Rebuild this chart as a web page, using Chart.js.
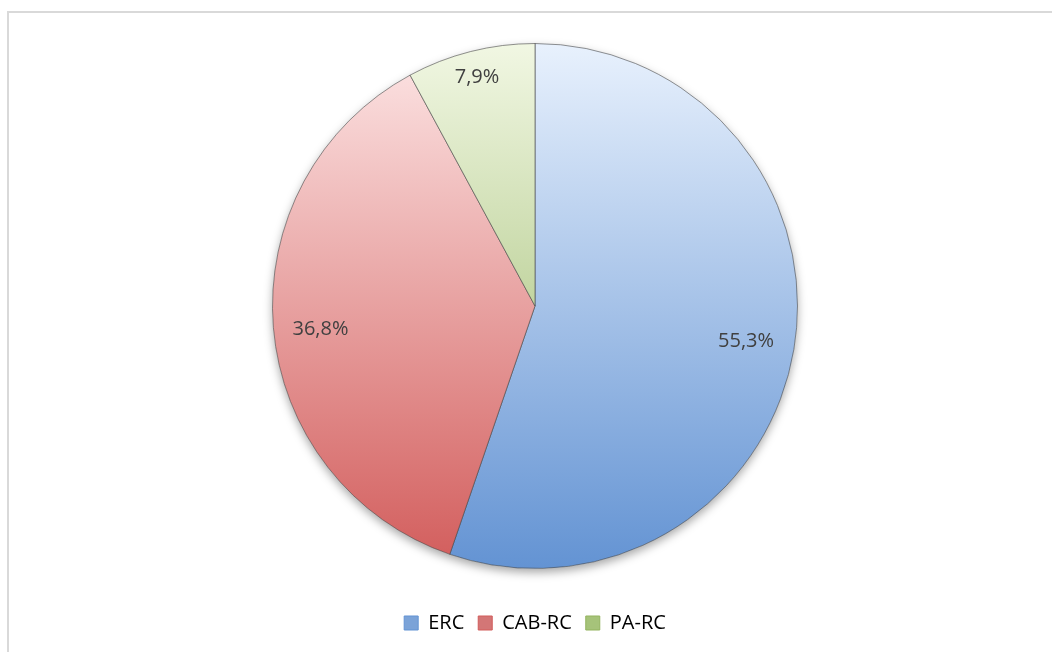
<!DOCTYPE html>
<html>
<head>
<meta charset="utf-8">
<script src="https://cdn.jsdelivr.net/npm/chart.js@4.4.0/dist/chart.umd.min.js"></script>
<style>
  html, body { margin: 0; padding: 0; background: #fff; overflow: hidden; }
  #wrap { position: relative; width: 1052px; height: 652px; }
  #frame {
    position: absolute; left: 7px; top: 11px; right: -10px; bottom: -10px;
    border: 2px solid #d9d9d9;
  }
  #chart { position: absolute; left: 0; top: 0; }
</style>
</head>
<body>
<div id="wrap">
  <div id="frame"></div>
  <canvas id="chart" width="1052" height="652"></canvas>
</div>
<script>
// datos del gráfico
const categories = ['ERC', 'CAB-RC', 'PA-RC'];
const values = [21, 14, 3];
const pctLabels = ['55,3%', '36,8%', '7,9%'];

// colores (claro arriba, oscuro abajo)
const lightColors = ['#e8f1fd', '#fde6e6', '#f1f7e3'];
const darkColors = ['#6393d3', '#d25c5b', '#93b35e'];
const legendColors = ['#7ba3d8', '#d37676', '#a6c37a'];

function sliceGradient(context) {
  const chart = context.chart;
  const area = chart.chartArea;
  const i = context.dataIndex;
  if (!area) return darkColors[i];
  const cy = (area.top + area.bottom) / 2;
  const r = Math.min(area.right - area.left, area.bottom - area.top) / 2;
  const g = chart.ctx.createLinearGradient(0, cy - r, 0, cy + r);
  g.addColorStop(0, lightColors[i]);
  g.addColorStop(1, darkColors[i]);
  return g;
}

// sombra bajo la tarta
const shadowPlugin = {
  id: 'pieShadow',
  beforeDatasetsDraw(chart) {
    const arc = chart.getDatasetMeta(0).data[0];
    if (!arc) return;
    const ctx = chart.ctx;
    ctx.save();
    ctx.shadowColor = 'rgba(0,0,0,0.35)';
    ctx.shadowBlur = 10;
    ctx.shadowOffsetY = 4;
    ctx.fillStyle = '#ffffff';
    ctx.beginPath();
    ctx.arc(arc.x, arc.y, arc.outerRadius, 0, Math.PI * 2);
    ctx.fill();
    ctx.restore();
  }
};

// etiquetas de porcentaje
const labelPlugin = {
  id: 'pctLabels',
  afterDatasetsDraw(chart, args, opts) {
    const ctx = chart.ctx;
    const meta = chart.getDatasetMeta(0);
    ctx.save();
    ctx.font = '20px "Open Sans", sans-serif';
    ctx.fillStyle = '#404040';
    ctx.textAlign = 'center';
    ctx.textBaseline = 'middle';
    meta.data.forEach((arc, i) => {
      const mid = (arc.startAngle + arc.endAngle) / 2;
      const f = opts.factors[i];
      const x = arc.x + Math.cos(mid) * arc.outerRadius * f;
      const y = arc.y + Math.sin(mid) * arc.outerRadius * f + opts.dy[i];
      ctx.fillText(pctLabels[i], x, y);
    });
    ctx.restore();
  }
};

new Chart(document.getElementById('chart'), {
  type: 'pie',
  data: {
    labels: categories,
    datasets: [{
      data: values,
      backgroundColor: sliceGradient,
      borderColor: 'rgba(70,70,70,0.6)',
      borderWidth: 1
    }]
  },
  options: {
    responsive: false,
    animation: false,
    layout: { padding: { left: 272, right: 254, top: 13, bottom: 9 } },
    plugins: {
      tooltip: { enabled: false },
      pctLabels: { factors: [0.815, 0.82, 0.9], dy: [0, 6, 0] },
      legend: {
        position: 'bottom',
        labels: {
          font: { family: '"Open Sans", sans-serif', size: 20 },
          color: '#595959',
          boxWidth: 14,
          boxHeight: 14,
          padding: 14,
          generateLabels(chart) {
            return categories.map((c, i) => ({
              text: c,
              fillStyle: legendColors[i],
              strokeStyle: darkColors[i],
              lineWidth: 1,
              index: i
            }));
          }
        }
      }
    }
  },
  plugins: [shadowPlugin, labelPlugin]
});
</script>
</body>
</html>
